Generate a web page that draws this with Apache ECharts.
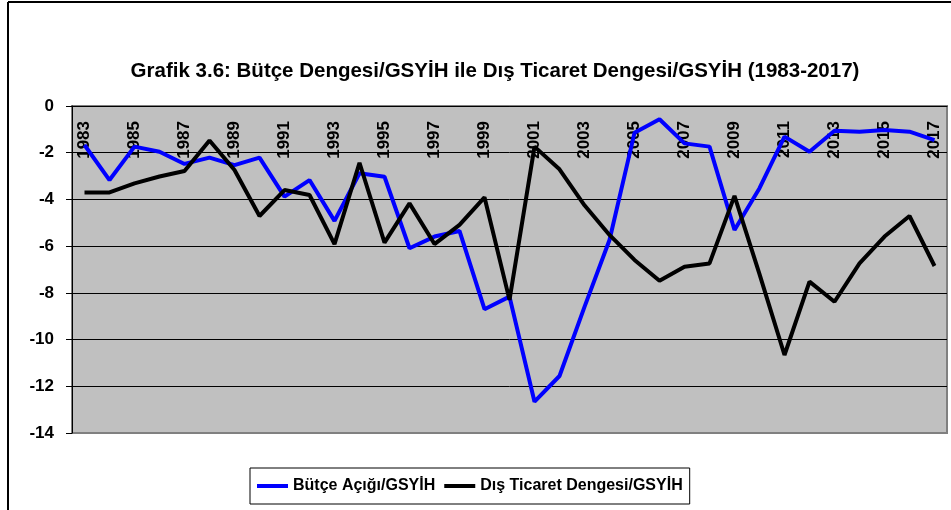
<!DOCTYPE html>
<html>
<head>
<meta charset="utf-8">
<script src="https://cdn.jsdelivr.net/npm/echarts@6/dist/echarts.min.js"></script>
<style>
  html, body { margin: 0; padding: 0; background: #fff; }
  #main { width: 951px; height: 510px; }
</style>
</head>
<body>
<div id="main"></div>
<script>
// yillar ve seriler (% GSYIH)
var years = ['1983', '1984', '1985', '1986', '1987', '1988', '1989', '1990', '1991', '1992',
  '1993', '1994', '1995', '1996', '1997', '1998', '1999', '2000', '2001', '2002',
  '2003', '2004', '2005', '2006', '2007', '2008', '2009', '2010', '2011', '2012',
  '2013', '2014', '2015', '2016', '2017']
var butceAcigi = [-1.67, -3.17, -1.74, -1.96, -2.48, -2.21, -2.53, -2.21, -3.88, -3.17,
  -4.92, -2.88, -3.03, -6.09, -5.59, -5.35, -8.70, -8.16, -12.66, -11.56,
  -8.6, -5.74, -1.15, -0.57, -1.60, -1.74, -5.31, -3.52, -1.31, -1.96,
  -1.06, -1.10, -1.03, -1.10, -1.46]
var disTicaret = [-3.70, -3.70, -3.31, -3.02, -2.78, -1.48, -2.74, -4.71, -3.60, -3.81,
  -5.91, -2.43, -5.85, -4.17, -5.91, -5.09, -3.91, -8.30, -1.74, -2.71,
  -4.25, -5.52, -6.59, -7.48, -6.88, -6.74, -3.85, -7.2, -10.66, -7.52,
  -8.38, -6.74, -5.59, -4.71, -6.85]
var seriesNames = ['Bütçe Açığı/GSYİH', 'Dış Ticaret Dengesi/GSYİH']

var chart = echarts.init(document.getElementById('main'))
var font = 'Liberation Sans, Arial, sans-serif'

chart.setOption({
  animation: false,
  title: {
    text: 'Grafik 3.6: Bütçe Dengesi/GSYİH ile Dış Ticaret Dengesi/GSYİH (1983-2017)',
    left: 490,
    textAlign: 'center',
    top: 56,
    textStyle: { fontFamily: font, fontWeight: 'bold', fontSize: 20.5, color: '#000' }
  },
  // dis cerceve (sol ve ust)
  graphic: [
    { type: 'line', shape: { x1: 8, y1: 2, x2: 951, y2: 2 }, style: { stroke: '#000', lineWidth: 2 } },
    { type: 'line', shape: { x1: 8, y1: 2, x2: 8, y2: 510 }, style: { stroke: '#000', lineWidth: 2 } }
  ],
  legend: {
    data: seriesNames,
    left: 250,
    top: 468,
    padding: [10, 7, 10, 7],
    itemWidth: 31,
    itemHeight: 4,
    itemGap: 9,
    icon: 'rect',
    borderColor: '#000',
    borderWidth: 1,
    textStyle: { fontFamily: font, fontWeight: 'bold', fontSize: 16, color: '#000' }
  },
  grid: {
    left: 72,
    top: 106,
    right: 4,
    bottom: 77,
    show: true,
    backgroundColor: '#C0C0C0',
    borderColor: '#808080',
    borderWidth: 2
  },
  xAxis: {
    type: 'category',
    position: 'top',
    data: years,
    boundaryGap: true,
    axisLine: { lineStyle: { color: '#000', width: 1 } },
    axisTick: { inside: true, length: 6, interval: 0, lineStyle: { color: '#000' } },
    axisLabel: {
      inside: true,
      rotate: 90,
      interval: 1,
      margin: 15,
      fontFamily: font,
      fontWeight: 'bold',
      fontSize: 17,
      color: '#000'
    },
    splitLine: { show: false }
  },
  yAxis: {
    type: 'value',
    min: -14,
    max: 0,
    interval: 2,
    axisLine: { show: true, lineStyle: { color: '#000', width: 1 } },
    axisTick: { show: true, length: 6, lineStyle: { color: '#000' } },
    axisLabel: { margin: 18, fontFamily: font, fontWeight: 'bold', fontSize: 17, color: '#000' },
    splitLine: {
      show: true,
      lineStyle: { color: ['#808080', '#000', '#000', '#000', '#000', '#000', '#000', '#000'], width: 1 }
    }
  },
  series: [
    {
      name: seriesNames[0],
      type: 'line',
      data: butceAcigi,
      symbol: 'none',
      itemStyle: { color: '#0000FF' },
      lineStyle: { color: '#0000FF', width: 4 }
    },
    {
      name: seriesNames[1],
      type: 'line',
      data: disTicaret,
      symbol: 'none',
      itemStyle: { color: '#000' },
      lineStyle: { color: '#000', width: 4 }
    }
  ]
})
</script>
</body>
</html>
